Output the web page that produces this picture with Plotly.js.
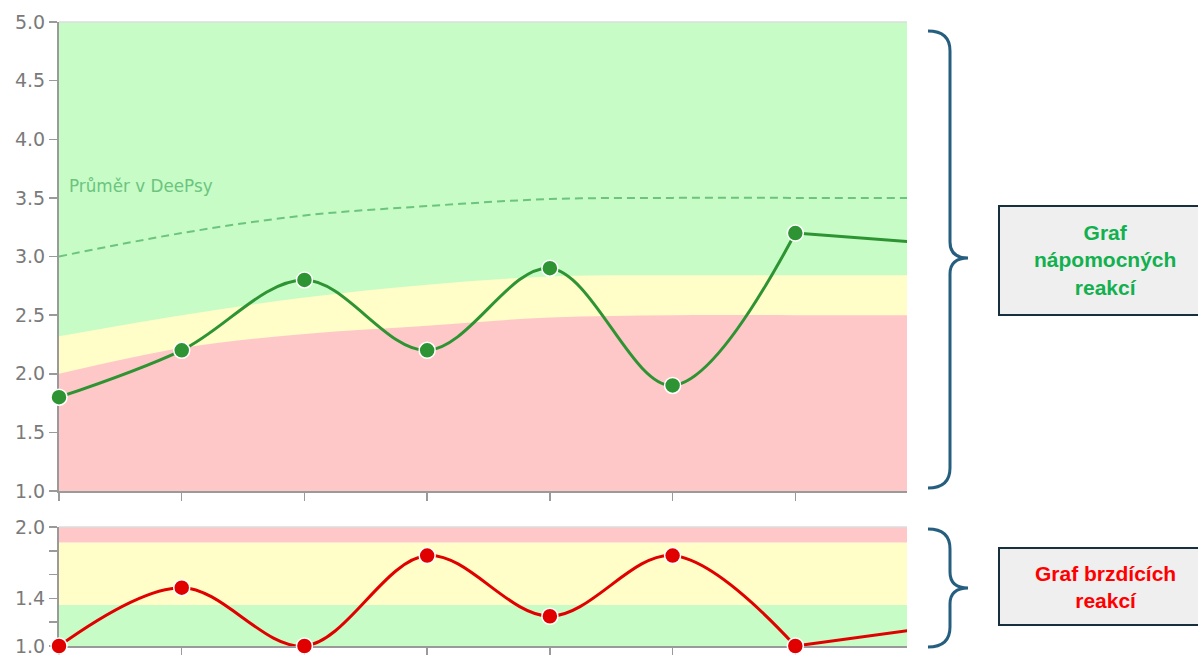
<!DOCTYPE html>
<html>
<head>
<meta charset="utf-8">
<script src="https://cdn.plot.ly/plotly-3.0.1.min.js"></script>
<style>html,body{margin:0;padding:0;background:#fff;}#chart{width:1198px;height:655px;}</style>
</head>
<body>
<div id="chart"></div>
<script>
// ---- data ----
const steps = [0, 1, 2, 3, 4, 5, 6, 7];
const helpfulScores = [1.8, 2.2, 2.8, 2.2, 2.9, 1.9, 3.2, 3.12];
const inhibitingScores = [1.0, 1.49, 1.0, 1.76, 1.25, 1.76, 1.0, 1.14];
const deepsyAverage = [3.0, 3.2, 3.35, 3.43, 3.49, 3.5, 3.5, 3.5];
const helpfulRedUpper = [2.0, 2.22, 2.34, 2.41, 2.48, 2.5, 2.5, 2.5];
const helpfulYellowUpper = [2.32, 2.5, 2.65, 2.76, 2.83, 2.84, 2.84, 2.84];
const inhibitingBandEdges = [1.0, 1.345, 1.87, 2.0]; // green | yellow | red
const helpfulTicks = [1.0, 1.5, 2.0, 2.5, 3.0, 3.5, 4.0, 4.5, 5.0];
const inhibitingTicks = [1.0, 1.2, 1.4, 1.6, 1.8, 2.0];
const inhibitingTickText = ['1.0', '', '1.4', '', '', '2.0'];
const avgLabel = 'Průměr v DeePsy';
const helpfulBoxText = 'Graf<br>nápomocných<br>reakcí';
const inhibitingBoxText = 'Graf brzdících<br>reakcí';

// ---- styling ----
const W = 1198, H = 655;
const M = {l: 59, r: 291, t: 22, b: 9};
const plotW = W - M.l - M.r, plotH = H - M.t - M.b;
const px = v => (v - M.l) / plotW;
const py = v => (H - M.b - v) / plotH;
const xRange = [0, 6.91];
const GREEN_BG = '#c7fcc7', YELLOW_BG = '#fffec8', RED_BG = '#ffc8c8';
const GREEN = '#2e9433', RED = '#e00000', AVG = '#6cc47e';
const AXIS = '#9a9a9a';
const topDomain = [py(491), 1];
const botDomain = [0, py(527)];

const visIdx = steps.map((s, i) => i).filter(i => steps[i] <= xRange[1]);
const pick = (arr) => visIdx.map(i => arr[i]);
const lastVis = visIdx[visIdx.length - 1];
const tail = (arr) => arr.slice(lastVis);

const traces = [
  {x: steps, y: helpfulYellowUpper, xaxis: 'x', yaxis: 'y', mode: 'lines', fill: 'tozeroy',
   fillcolor: YELLOW_BG, line: {width: 0, shape: 'spline', color: YELLOW_BG}, hoverinfo: 'skip'},
  {x: steps, y: helpfulRedUpper, xaxis: 'x', yaxis: 'y', mode: 'lines', fill: 'tozeroy',
   fillcolor: RED_BG, line: {width: 0, shape: 'spline', color: RED_BG}, hoverinfo: 'skip'},
  {x: steps, y: deepsyAverage, xaxis: 'x', yaxis: 'y', mode: 'lines',
   line: {color: AVG, width: 2, dash: '8px,5px', shape: 'spline'}},
  {x: pick(steps), y: pick(helpfulScores), xaxis: 'x', yaxis: 'y', mode: 'lines',
   line: {color: GREEN, width: 3, shape: 'spline'}},
  {x: tail(steps), y: tail(helpfulScores), xaxis: 'x', yaxis: 'y', mode: 'lines',
   line: {color: GREEN, width: 3}},
  {x: pick(steps), y: pick(helpfulScores), xaxis: 'x', yaxis: 'y', mode: 'markers', cliponaxis: false,
   marker: {color: GREEN, size: 16, line: {color: '#ffffff', width: 1.5}}},
  {x: pick(steps), y: pick(inhibitingScores), xaxis: 'x2', yaxis: 'y2', mode: 'lines',
   line: {color: RED, width: 3, shape: 'spline'}},
  {x: tail(steps), y: tail(inhibitingScores), xaxis: 'x2', yaxis: 'y2', mode: 'lines',
   line: {color: RED, width: 3}},
  {x: pick(steps), y: pick(inhibitingScores), xaxis: 'x2', yaxis: 'y2', mode: 'markers', cliponaxis: false,
   marker: {color: RED, size: 16, line: {color: '#ffffff', width: 1.5}}}
];

const shapes = [];
shapes.push({type: 'rect', xref: 'x domain', yref: 'y domain', x0: 0, x1: 1, y0: 0, y1: 1,
  fillcolor: GREEN_BG, line: {width: 0}, layer: 'below'});
const bandColors = [GREEN_BG, YELLOW_BG, RED_BG];
for (let i = 0; i < bandColors.length; i++) {
  shapes.push({type: 'rect', xref: 'x2 domain', yref: 'y2', x0: 0, x1: 1,
    y0: inhibitingBandEdges[i], y1: inhibitingBandEdges[i + 1],
    fillcolor: bandColors[i], line: {width: 0}, layer: 'below'});
}
shapes.push({type: 'line', xref: 'x domain', yref: 'y domain', x0: 0, x1: 1, y0: 1, y1: 1,
  line: {color: '#dddddd', width: 1.5}});
shapes.push({type: 'line', xref: 'x2 domain', yref: 'y2 domain', x0: 0, x1: 1, y0: 1, y1: 1,
  line: {color: '#dddddd', width: 1.5}});

function brace(top, bottom, tip) {
  const xl = 928, xv = 950, xt = 968, r = 20;
  const P = (x, y) => px(x).toFixed(5) + ',' + py(y).toFixed(5);
  return 'M' + P(xl, top) + ' Q' + P(xv, top) + ' ' + P(xv, top + r) +
    ' L' + P(xv, tip - 16) + ' Q' + P(xv, tip) + ' ' + P(xt, tip) +
    ' Q' + P(xv, tip) + ' ' + P(xv, tip + 16) +
    ' L' + P(xv, bottom - r) + ' Q' + P(xv, bottom) + ' ' + P(xl, bottom);
}
shapes.push({type: 'path', xref: 'paper', yref: 'paper', path: brace(31, 488, 258),
  line: {color: '#255e7e', width: 3}});
shapes.push({type: 'path', xref: 'paper', yref: 'paper', path: brace(529, 647, 588),
  line: {color: '#255e7e', width: 3}});

shapes.push({type: 'rect', xref: 'paper', yref: 'paper', x0: px(999), x1: px(1202), y0: py(315), y1: py(206),
  fillcolor: '#efefef', line: {color: '#17303d', width: 2}});
shapes.push({type: 'rect', xref: 'paper', yref: 'paper', x0: px(999), x1: px(1202), y0: py(625), y1: py(548),
  fillcolor: '#efefef', line: {color: '#17303d', width: 2}});

const annotations = [
  {xref: 'paper', yref: 'y', x: px(67), y: 3.6, xanchor: 'left', yanchor: 'middle', showarrow: false,
   text: avgLabel, font: {family: 'DejaVu Sans', size: 16.8, color: AVG}},
  {xref: 'paper', yref: 'paper', x: px(1105), y: py(260), xanchor: 'center', yanchor: 'middle', showarrow: false,
   text: helpfulBoxText, font: {family: 'Liberation Sans', size: 21, color: '#12b04e', weight: 'bold'}},
  {xref: 'paper', yref: 'paper', x: px(1105), y: py(587), xanchor: 'center', yanchor: 'middle', showarrow: false,
   text: inhibitingBoxText, font: {family: 'Liberation Sans', size: 21, color: '#ff0000', weight: 'bold'}}
];

const xCommon = {range: xRange, showgrid: false, zeroline: false, showline: true, linecolor: AXIS, linewidth: 2,
  ticks: 'outside', ticklen: 8, tickwidth: 1.5, tickcolor: AXIS, tickvals: pick(steps),
  showticklabels: false, fixedrange: true, layer: 'below traces'};
const yCommon = {showgrid: false, zeroline: false, showline: true, linecolor: AXIS, linewidth: 2,
  ticks: 'outside', ticklen: 8, tickwidth: 1.5, tickcolor: AXIS, ticklabeloverflow: 'allow',
  tickfont: {family: 'DejaVu Sans', size: 19, color: '#7a7a7a'}, automargin: false, fixedrange: true,
  layer: 'below traces'};

const layout = {
  width: W, height: H, margin: M, showlegend: false,
  paper_bgcolor: '#ffffff', plot_bgcolor: 'rgba(0,0,0,0)',
  xaxis: Object.assign({}, xCommon, {domain: [0, 1], anchor: 'y'}),
  yaxis: Object.assign({}, yCommon, {domain: topDomain, anchor: 'x', range: [1, 5],
    tickvals: helpfulTicks, tickformat: '.1f'}),
  xaxis2: Object.assign({}, xCommon, {domain: [0, 1], anchor: 'y2'}),
  yaxis2: Object.assign({}, yCommon, {domain: botDomain, anchor: 'x2', range: [1, 2],
    tickvals: inhibitingTicks, ticktext: inhibitingTickText}),
  shapes: shapes, annotations: annotations
};

Plotly.newPlot('chart', traces, layout, {displayModeBar: false, staticPlot: true});
</script>
</body>
</html>
